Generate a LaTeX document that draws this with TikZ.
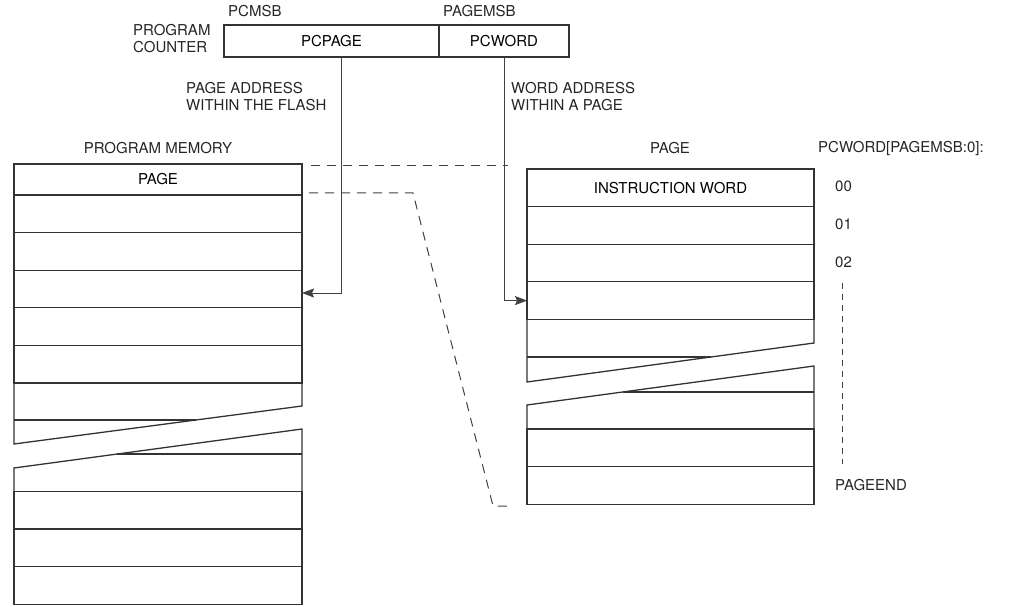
\documentclass[tikz,border=0pt]{standalone}
\usepackage{fontspec}
\setmainfont{TeX Gyre Heros}
\usetikzlibrary{positioning,arrows.meta}

\begin{document}
\begin{tikzpicture}[
    x=1pt, y=-1pt,
    >={Stealth[length=12pt,width=9pt,inset=2pt]},
    font=\fontsize{15}{17}\selectfont,
    field/.style={
        draw=black!80,
        line width=1.2pt,
        minimum height=32pt,
        inner sep=0pt,
        outer sep=0pt
    },
    memrow/.style={
        draw=black!80,
        line width=1.3pt,
        minimum width=288pt,
        minimum height=37.6pt,
        inner sep=0pt,
        outer sep=0pt
    },
    brk/.style={draw=black!80, line width=1.3pt, line join=miter},
    lbl/.style={inner sep=0pt, align=left, text=black!85},
    arr/.style={->, line width=1pt, draw=black!75},
    dashln/.style={draw=black!75, line width=1pt, dash pattern=on 9pt off 7pt}
]
\useasboundingbox (0,0) rectangle (1013,607);

% program counter
\node[field, minimum width=215pt, anchor=north west] (pcpage) at (224,25) {PCPAGE};
\node[field, minimum width=130pt, right=0pt of pcpage] (pcword) {PCWORD};
\node[lbl, anchor=west] (pcmsb) at (228,11) {PCMSB};
\node[lbl, anchor=west] (pagemsb) at (443,11) {PAGEMSB};
\node[lbl, anchor=west] (pclabel) at (133,39) {PROGRAM\\COUNTER};

\node[lbl, anchor=west] (pageaddr) at (186,96.5) {PAGE ADDRESS\\WITHIN THE FLASH};
\node[lbl, anchor=west] (wordaddr) at (511,96.5) {WORD ADDRESS\\WITHIN A PAGE};

% program memory
\node[lbl] (memtitle) at (158,148) {PROGRAM MEMORY};
\node[memrow, minimum height=31pt, anchor=north west] (lpage) at (14,164) {PAGE};
\node[memrow, below=0pt of lpage] (lrow1) {};
\node[memrow, below=0pt of lrow1] (lrow2) {};
\node[memrow, below=0pt of lrow2] (lrow3) {};
\node[memrow, below=0pt of lrow3] (lrow4) {};
\node[memrow, below=0pt of lrow4] (lrow5) {};
\draw[brk] (lrow5.south west) -- (14,444) -- (302,406) -- (lrow5.south east);
\draw[brk] (14,420) -- (196,420);
\node[memrow, anchor=north west] (lrow6) at (14,491.5) {};
\node[memrow, below=0pt of lrow6] (lrow7) {};
\node[memrow, below=0pt of lrow7] (lrow8) {};
\draw[brk] (lrow6.north west) -- (14,468) -- (302,429) -- (lrow6.north east);
\draw[brk] (117,454) -- (302,454);

% one page
\node[lbl] (pagetitle) at (670,148) {PAGE};
\node[memrow, minimum width=287pt, anchor=north west] (rword) at (527,169) {INSTRUCTION WORD};
\node[memrow, minimum width=287pt, below=0pt of rword] (rrow1) {};
\node[memrow, minimum width=287pt, below=0pt of rrow1] (rrow2) {};
\node[memrow, minimum width=287pt, below=0pt of rrow2] (rrow3) {};
\draw[brk] (rrow3.south west) -- (527,382) -- (814,343) -- (rrow3.south east);
\draw[brk] (527,357) -- (711,357);
\node[memrow, minimum width=287pt, anchor=north west] (rrow4) at (527,429) {};
\node[memrow, minimum width=287pt, below=0pt of rrow4] (rrow5) {};
\draw[brk] (rrow4.north west) -- (527,405) -- (814,366) -- (rrow4.north east);
\draw[brk] (623,392) -- (814,392);

% word numbers
\node[lbl, anchor=west] (wordidx) at (818,148) {PCWORD[PAGEMSB:0]:};
\node[lbl, anchor=west] (n00) at (835,186) {00};
\node[lbl, anchor=west] (n01) at (835,224) {01};
\node[lbl, anchor=west] (n02) at (835,262) {02};
\node[lbl, anchor=west] (pageend) at (835,485) {PAGEEND};
\draw[dashln, dash pattern=on 6pt off 5pt, shorten <=15pt, shorten >=15pt]
    ([xshift=-1pt]n02.south) -- ([xshift=-1pt]n02.south |- pageend.north);

% address arrows
\draw[arr] ([xshift=9.5pt]pcpage.south) |- ([yshift=-4pt]lrow3.east);
\draw[arr] (pcword.south) |- (rrow3.west);

% page mapping
\coordinate (pgtop) at (508,166);
\coordinate (pgbend) at (413,193);
\coordinate (pgfoot) at (493,506);
\coordinate (pgbot) at (512,506);
\draw[dashln] ([xshift=9pt,yshift=-2pt]lpage.north east) -- (pgtop);
\draw[dashln] ([xshift=7pt,yshift=2pt]lpage.south east) -- (pgbend) -- (pgfoot) -- (pgbot);

\end{tikzpicture}
\end{document}
